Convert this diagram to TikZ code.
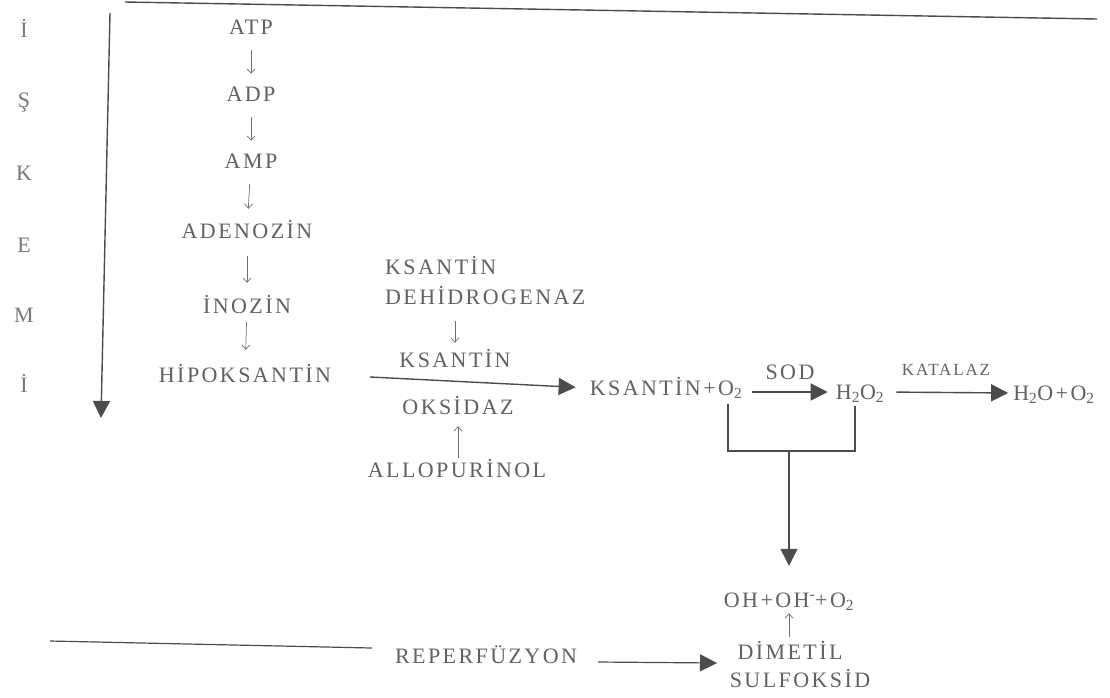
\documentclass[tikz,border=0pt]{standalone}
\usepackage{fontspec}
\setmainfont{Liberation Serif}[LetterSpace=11]
\usetikzlibrary{arrows.meta}
\definecolor{txtc}{gray}{0.38}
\definecolor{lnc}{gray}{0.30}
\begin{document}
\begin{tikzpicture}[x=1pt,y=-1pt,
  lbl/.style={inner sep=0pt, text height=14pt, text depth=0pt, text=txtc,
    font=\fontsize{22}{24}\selectfont},
  smalllbl/.style={lbl, font=\fontsize{17}{19}\selectfont},
  sidelbl/.style={lbl, text=txtc!85, font=\fontsize{22}{24}\selectfont},
  thinarrow/.style={draw=lnc!80, line width=0.7pt, -{Straight Barb[length=4.5pt,width=8pt]}},
  bigarrow/.style={draw=lnc, line width=1.4pt, -{Triangle[length=17pt,width=17pt]}},
  plainline/.style={draw=lnc, line width=1.4pt}]
\fill[white] (0,0) rectangle (1110,697);
\useasboundingbox (0,0) rectangle (1110,697);

% side letters
\node[sidelbl] (l1) at (24,30) {İ};
\node[sidelbl] (l2) at (24,100) {Ş};
\node[sidelbl] (l3) at (24,173) {K};
\node[sidelbl] (l4) at (24,245) {E};
\node[sidelbl] (l5) at (24,315) {M};
\node[sidelbl] (l6) at (24,385) {İ};

% frame lines
\coordinate (tl1) at (125,2);
\coordinate (tl2) at (1097,19);
\draw[plainline] (tl1) -- (tl2);
\coordinate (v1) at (110,13);
\coordinate (v2) at (101,418);
\draw[bigarrow] (v1) -- (v2);

% left column
\node[lbl] (atp) at (251,27) {ATP};
\node[lbl] (adp) at (251,94) {ADP};
\node[lbl] (amp) at (251,161) {AMP};
\node[lbl] (ade) at (247,231) {ADENOZİN};
\node[lbl] (ino) at (247,306) {İNOZİN};
\node[lbl] (hip) at (245,375) {HİPOKSANTİN};
\draw[thinarrow, shorten <=16pt, shorten >=13pt] (atp) -- (adp);
\draw[thinarrow, shorten <=16pt, shorten >=13pt] (adp) -- (amp);
\draw[thinarrow, shorten <=16pt, shorten >=15pt] (amp) -- (ade);
\draw[thinarrow, shorten <=18pt, shorten >=16pt] (ade) -- (ino);
\draw[thinarrow, shorten <=9pt, shorten >=18pt] (ino) -- (hip);

% enzyme
\node[lbl, anchor=west] (ks1) at (385,267) {KSANTİN};
\node[lbl, anchor=west] (deh) at (385,297) {DEHİDROGENAZ};
\node[lbl] (ks2) at (455,360) {KSANTİN};
\node[lbl] (oks) at (458,407) {OKSİDAZ};
\node[lbl] (allo) at (457,470) {ALLOPURİNOL};
\draw[thinarrow, shorten <=17pt, shorten >=10pt] (ks2.north |- deh.south) -- (ks2.north);
\draw[thinarrow, shorten <=5pt, shorten >=12pt] (allo.north -| oks.south) -- (oks.south);

% main row
\node[lbl] (kso) at (666,388) {KSANTİN+O\textsubscript{2}};
\coordinate (hs) at (370,377);
\draw[bigarrow, shorten >=14pt] (hs) -- (kso.west);
\node[lbl] (h2o2) at (860,392) {H\textsubscript{2}O\textsubscript{2}};
\node[lbl] (sod) at (790,372) {SOD};
\draw[bigarrow, shorten <=10pt, shorten >=8pt] (kso.east |- h2o2.west) -- (h2o2.west);
\node[lbl] (h2o) at (1054,393) {H\textsubscript{2}O+O\textsubscript{2}};
\node[smalllbl] (kat) at (946,368) {KATALAZ};
\draw[bigarrow, shorten <=12pt, shorten >=5pt] (h2o2.east) -- (h2o.west);

% bracket
\coordinate (bl) at (728,404);
\coordinate (blb) at (728,451);
\coordinate (brb) at (855,451);
\coordinate (brt) at (855,406);
\coordinate (bm) at (789,451);
\draw[draw=lnc, line width=1.3pt] (bl) -- (blb) -- (brb) -- (brt);
\node[lbl] (oh) at (789,600) {OH+OH\textsuperscript{-}+O\textsubscript{2}};
\draw[bigarrow, shorten >=27pt] (bm) -- (oh.north);

% DMSO
\node[lbl] (dim) at (790,652) {DİMETİL};
\node[lbl] (sul) at (800,680) {SULFOKSİD};
\draw[thinarrow, shorten <=8pt, shorten >=6pt] (dim.north -| oh.south) -- (oh.south);

% reperfusion
\node[lbl] (rep) at (486,656) {REPERFÜZYON};
\coordinate (ll) at (50,641);
\coordinate (lr) at (372,648);
\draw[plainline, line width=1.2pt] (ll) -- (lr);
\coordinate (ra) at (598,662);
\coordinate (rb) at (717,663);
\draw[bigarrow, line width=1.2pt] (ra) -- (rb);
\end{tikzpicture}
\end{document}
